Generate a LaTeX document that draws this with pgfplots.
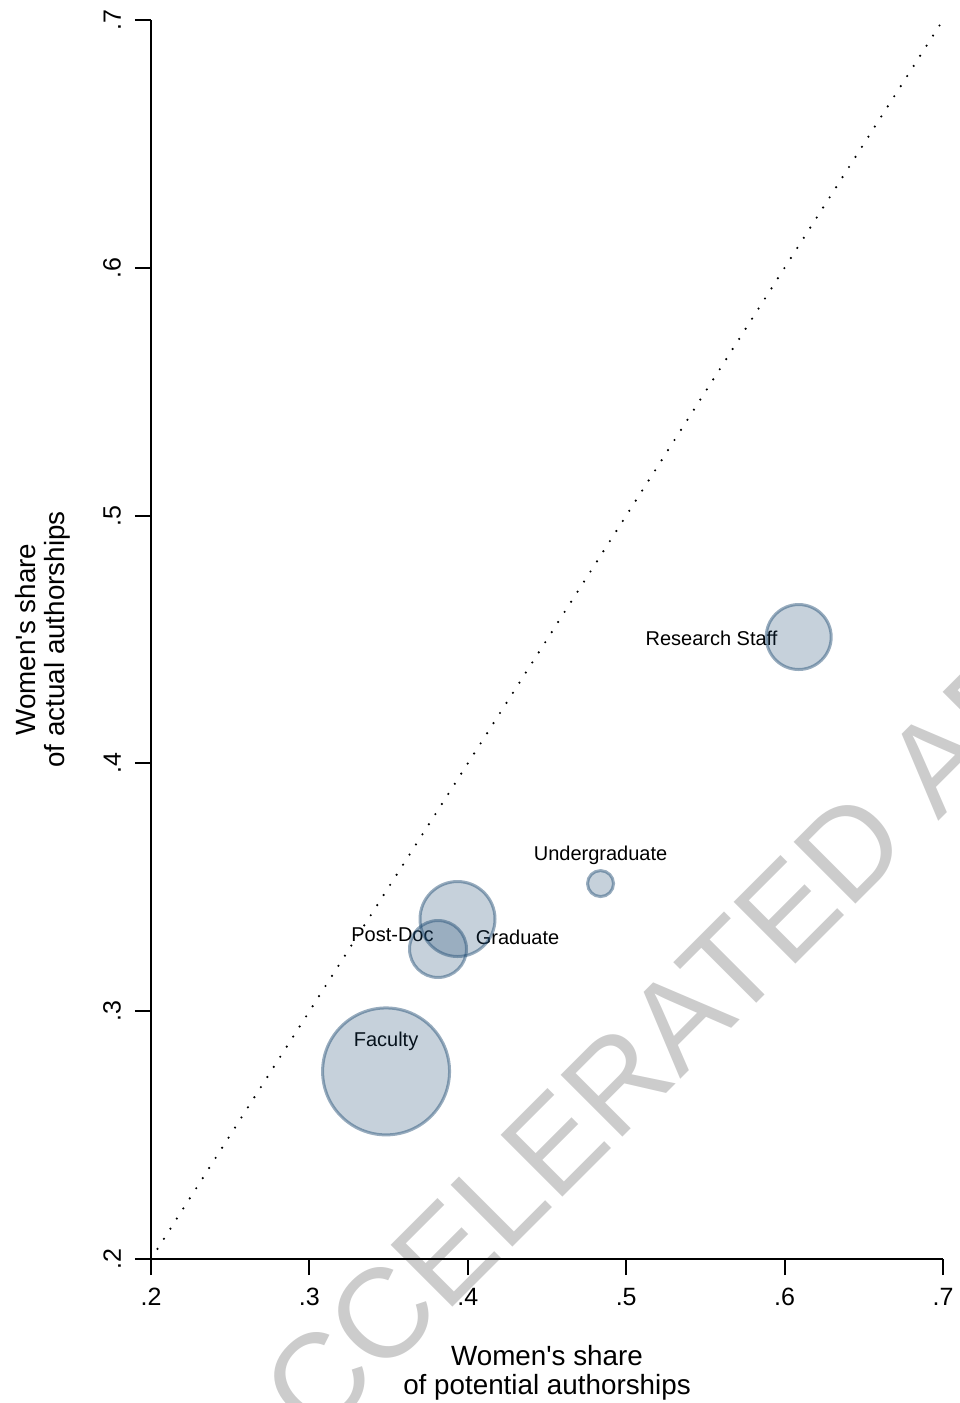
\documentclass[border=0pt]{standalone}
\usepackage{fontspec}
\setmainfont{Liberation Sans}
\usepackage{pgfplots}
\usepackage{pgfplotstable}
\pgfplotsset{compat=1.18}

\definecolor{stnavy}{RGB}{26,71,111}
\definecolor{wmgray}{RGB}{204,204,204}

% position, share and relative weight of each career stage
\pgfplotstableread{
x      y      w
0.3484 0.2757 40.3
0.3935 0.3372 14.06
0.3812 0.3251 8.12
0.4838 0.3515 1.69
0.6089 0.4510 10.56
}\bubbles

\begin{document}
\begin{tikzpicture}
\useasboundingbox (-75.5pt,-72pt) rectangle (404pt,629.5pt);
\begin{scope}
  \clip (-75.5pt,-72pt) rectangle (404pt,629.5pt);
  \node[anchor=west, rotate=45, inner sep=0pt, text=wmgray,
        font=\fontsize{63.5}{63.5}\selectfont] at (37pt,-107pt)
        {ACCELERATED ARTICLE PREVIEW};
\end{scope}
\begin{axis}[
  at={(0,0)}, anchor=south west,
  scale only axis, width=396pt, height=619.5pt,
  xmin=0.2, xmax=0.7, ymin=0.2, ymax=0.7,
  axis x line=bottom, axis y line=left,
  axis line style={-, line width=1pt, black},
  tick align=outside, major tick length=8pt,
  tick style={line width=1pt, black},
  xtick={0.2,0.3,0.4,0.5,0.6,0.7},
  ytick={0.2,0.3,0.4,0.5,0.6,0.7},
  xticklabels={.2,.3,.4,.5,.6,.7},
  yticklabels={.2,.3,.4,.5,.6,.7},
  ticklabel style={font=\fontsize{12.5}{14.5}\selectfont},
  yticklabel style={rotate=90, anchor=south},
  xticklabel shift=3pt, yticklabel shift=3.5pt,
  xlabel={Women\textquotesingle s share\\of potential authorships},
  ylabel={Women\textquotesingle s share\\of actual authorships},
  label style={font=\fontsize{13.9}{14.5}\selectfont, align=center},
  xlabel style={at={(axis description cs:0.5,0)}, anchor=north, yshift=-43pt, inner sep=0pt},
  ylabel style={at={(axis description cs:-0.101,0.5)}, anchor=south, inner sep=0pt},
  clip=false,
]
% equal-share diagonal
\addplot[black, line width=1.2pt, line cap=round, dash pattern=on 0pt off 6pt]
  coordinates {(0.2,0.2) (0.7,0.7)};
% bubbles, area proportional to weight
\addplot[scatter, only marks, mark=*,
  scatter/use mapped color={draw=stnavy, fill=stnavy},
  mark options={line width=1.5pt, fill opacity=0.25, draw opacity=0.45},
  visualization depends on={5*sqrt(\thisrow{w}) \as \msize},
  scatter/@pre marker code/.append style={/tikz/mark size=\msize pt},
] table[x=x, y=y] {\bubbles};
% marker labels
\begin{scope}[every node/.style={inner sep=0pt, font=\fontsize{10}{12}\selectfont}]
\node[anchor=center] at (axis cs:0.3484,0.2757) [yshift=15pt] {Faculty};
\node[anchor=center] at (axis cs:0.4838,0.3515) [yshift=14.25pt] {Undergraduate};
\node[anchor=west] at (axis cs:0.3935,0.3372) [xshift=9pt, yshift=-9pt] {Graduate};
\node[anchor=east] at (axis cs:0.3812,0.3251) [xshift=-2pt, yshift=7pt] {Post-Doc};
\node[anchor=east] at (axis cs:0.6089,0.4510) [xshift=-10.4pt, yshift=-0.5pt] {Research Staff};
\end{scope}
\end{axis}
\end{tikzpicture}
\end{document}
